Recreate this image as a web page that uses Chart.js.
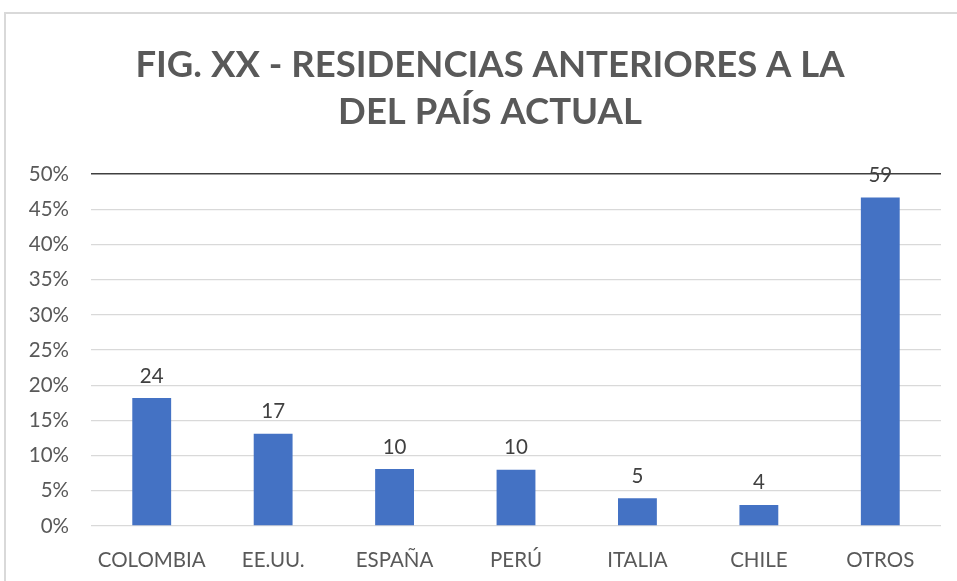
<!DOCTYPE html>
<html>
<head>
<meta charset="utf-8">
<script src="https://cdn.jsdelivr.net/npm/chart.js@4"></script>
<style>
  html, body { margin: 0; padding: 0; background: #fff; overflow: hidden; }
  #wrap { position: relative; width: 957px; height: 581px; overflow: hidden; }
  #frame { position: absolute; left: 4px; top: 12px; width: 970px; height: 600px;
           border: 2px solid #d9d9d9; box-sizing: border-box; }
  canvas { position: absolute; left: 0; top: 0; }
</style>
</head>
<body>
<div id="wrap">
  <div id="frame"></div>
  <canvas id="chart" width="995" height="581"></canvas>
</div>
<script>
// categories and values
var paises = ['COLOMBIA', 'EE.UU.', 'ESPAÑA', 'PERÚ', 'ITALIA', 'CHILE', 'OTROS'];
var porcentajes = [18.2, 13.1, 8.1, 8.0, 3.95, 3.0, 46.7];
var cantidades = [24, 17, 10, 10, 5, 4, 59];
var ticksY = [0, 5, 10, 15, 20, 25, 30, 35, 40, 45, 50];

var fuente = 'Lato, "Liberation Sans", sans-serif';

// draws the counts above each bar
var etiquetas = {
    id: 'etiquetas',
    afterDatasetsDraw: function (chart) {
        var ctx = chart.ctx;
        var meta = chart.getDatasetMeta(0);
        ctx.save();
        ctx.font = '20.5px ' + fuente;
        ctx.fillStyle = '#404040';
        ctx.textAlign = 'center';
        ctx.textBaseline = 'middle';
        meta.data.forEach(function (bar, i) {
            ctx.fillText(String(cantidades[i]), bar.x, bar.y - 22);
        });
        ctx.restore();
    }
};

new Chart(document.getElementById('chart').getContext('2d'), {
    type: 'bar',
    data: {
        labels: paises,
        datasets: [{
            data: porcentajes,
            backgroundColor: '#4472C4',
            barPercentage: 0.64,
            categoryPercentage: 0.5
        }]
    },
    options: {
        responsive: false,
        animation: false,
        // canvas is wider than the page so the centred title sits a bit right of the plot centre
        layout: { padding: { top: 12, right: 15, left: 0, bottom: 0 } },
        plugins: {
            legend: { display: false },
            tooltip: { enabled: false },
            title: {
                display: true,
                text: ['FIG. XX - RESIDENCIAS ANTERIORES A LA', 'DEL PAÍS ACTUAL'],
                color: '#595959',
                font: { family: fuente, size: 36.5, weight: 'bold', lineHeight: 1.29 },
                padding: { top: 30, bottom: 38 }
            }
        },
        scales: {
            x: {
                afterFit: function (axis) { axis.height = 55; },
                grid: { display: false, drawTicks: false },
                border: { display: false },
                ticks: { color: '#595959', font: { family: fuente, size: 20.5 }, padding: 22 }
            },
            y: {
                min: 0,
                max: 50,
                afterBuildTicks: function (axis) {
                    axis.ticks = ticksY.map(function (v) { return { value: v }; });
                },
                afterFit: function (axis) { axis.width = 91; },
                border: { display: false },
                grid: {
                    drawTicks: false,
                    color: function (c) { return c.tick && c.tick.value === 50 ? '#404040' : '#d9d9d9'; },
                    lineWidth: function (c) { return c.tick && c.tick.value === 50 ? 1.5 : 1.3; }
                },
                ticks: {
                    color: '#595959',
                    font: { family: fuente, size: 20.5 },
                    padding: 22,
                    callback: function (v) { return v + '%'; }
                }
            },
            // empty spacer on the right
            derecha: {
                position: 'right',
                afterFit: function (axis) { axis.width = 39; },
                grid: { display: false, drawTicks: false },
                border: { display: false },
                ticks: { display: false }
            }
        }
    },
    plugins: [etiquetas]
});
</script>
</body>
</html>
